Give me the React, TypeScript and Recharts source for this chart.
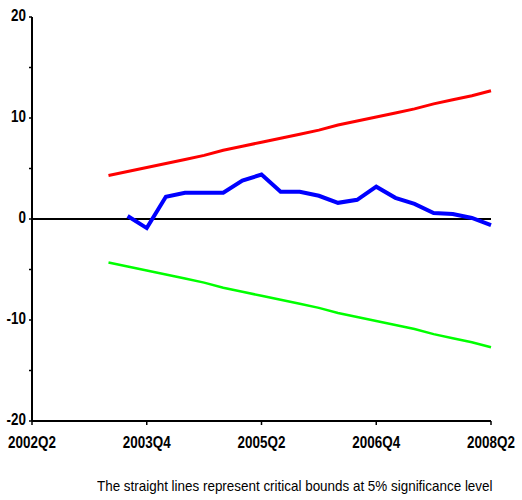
import { LineChart, Line, XAxis, YAxis, ReferenceLine } from "recharts";

// quarter labels from 2002Q2 to 2008Q2
const quarters = [
  "2002Q2", "2002Q3", "2002Q4", "2003Q1", "2003Q2", "2003Q3", "2003Q4",
  "2004Q1", "2004Q2", "2004Q3", "2004Q4", "2005Q1", "2005Q2", "2005Q3",
  "2005Q4", "2006Q1", "2006Q2", "2006Q3", "2006Q4", "2007Q1", "2007Q2",
  "2007Q3", "2007Q4", "2008Q1", "2008Q2",
];

const xTicks = ["2002Q2", "2003Q4", "2005Q2", "2006Q4", "2008Q2"];
const yTicks = [-20, -15, -10, -5, 0, 5, 10, 15, 20];

// cumulative sum of recursive residuals, from 2003Q3
const cusum = [
  0.3, -0.9, 2.2, 2.6, 2.6, 2.6, 3.8, 4.4, 2.7, 2.7,
  2.3, 1.6, 1.9, 3.2, 2.1, 1.5, 0.6, 0.5, 0.1, -0.6,
];

// 5% critical bounds, from 2003Q2
const upperBound = [
  4.3, 4.7, 5.1, 5.5, 5.9, 6.3, 6.8, 7.2, 7.6, 8.0, 8.4,
  8.8, 9.3, 9.7, 10.1, 10.5, 10.9, 11.4, 11.8, 12.2, 12.7,
];
const lowerBound = [
  -4.3, -4.7, -5.1, -5.5, -5.9, -6.3, -6.8, -7.2, -7.6, -8.0, -8.4,
  -8.8, -9.3, -9.7, -10.1, -10.5, -10.9, -11.4, -11.8, -12.2, -12.7,
];

const boundStart = 4;
const cusumStart = 5;

const data = quarters.map((q, i) => ({
  i,
  q,
  cusum: i >= cusumStart ? cusum[i - cusumStart] : null,
  upper: i >= boundStart ? upperBound[i - boundStart] : null,
  lower: i >= boundStart ? lowerBound[i - boundStart] : null,
}));

const font = "'Liberation Sans', Arial, sans-serif";

// condensed bold tick labels
function XTick({ x, y, payload }: any) {
  return (
    <g transform={`translate(${x},${y + 21}) scale(0.84,1)`}>
      <text textAnchor="middle" fontFamily={font} fontWeight={700} fontSize={16} fill="#000">
        {quarters[payload.value]}
      </text>
    </g>
  );
}

function YTick({ x, y, payload }: any) {
  if (payload.value % 10 !== 0) return null;
  return (
    <g transform={`translate(${x - 1},${y + 4}) scale(0.84,1)`}>
      <text textAnchor="end" fontFamily={font} fontWeight={700} fontSize={16} fill="#000">
        {payload.value}
      </text>
    </g>
  );
}

export default function App() {
  return (
    <div style={{ position: "absolute", left: 0, top: 0, width: 522, height: 500, background: "#fff" }}>
      <LineChart
        width={522}
        height={470}
        data={data}
        margin={{ top: 17, right: 31, left: 0, bottom: 0 }}
      >
        <XAxis
          dataKey="i"
          type="number"
          domain={[0, 24]}
          ticks={xTicks.map((t) => quarters.indexOf(t))}
          height={49}
          axisLine={{ stroke: "#000", strokeWidth: 2 }}
          tickLine={{ stroke: "#000", strokeWidth: 1.5 }}
          tickSize={4}
          tick={<XTick />}
          interval={0}
        />
        <YAxis
          type="number"
          domain={[-20, 20]}
          ticks={yTicks}
          width={32}
          axisLine={{ stroke: "#000", strokeWidth: 2 }}
          tickLine={{ stroke: "#000", strokeWidth: 1.5 }}
          tickSize={3}
          tick={<YTick />}
          interval={0}
        />
        <ReferenceLine y={0} stroke="#000" strokeWidth={2} />
        <Line dataKey="upper" stroke="#ff0000" strokeWidth={3} dot={false} isAnimationActive={false} />
        <Line dataKey="lower" stroke="#00ff00" strokeWidth={2.5} dot={false} isAnimationActive={false} />
        <Line dataKey="cusum" stroke="#0000ff" strokeWidth={4} dot={false} strokeLinejoin="miter" isAnimationActive={false} />
      </LineChart>
      <div
        style={{
          position: "absolute",
          left: 97,
          top: 477,
          fontFamily: font,
          fontSize: 15,
          color: "#000",
          whiteSpace: "nowrap",
          transform: "scaleX(0.895)",
          transformOrigin: "left top",
        }}
      >
        The straight lines represent critical bounds at 5% significance level
      </div>
    </div>
  );
}
